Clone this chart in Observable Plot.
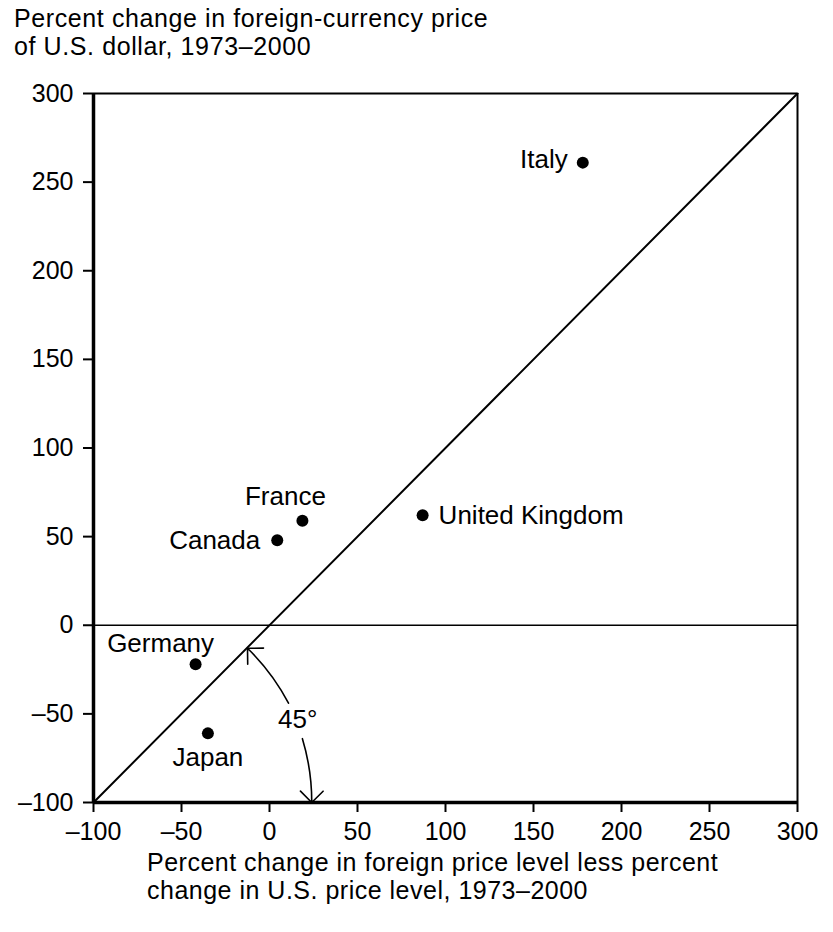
<!DOCTYPE html>
<html><head><meta charset="utf-8">
<script src="https://cdn.jsdelivr.net/npm/d3@7"></script>
<script src="https://cdn.jsdelivr.net/npm/@observablehq/plot@0.6"></script>
<style>
body{margin:0;background:#fff;font-family:"Liberation Sans",Arial,sans-serif;color:#000}
#wrap{width:833px;height:932px;position:relative;overflow:hidden}
#title{position:absolute;left:14px;top:4px;font-size:25px;letter-spacing:0.6px;line-height:28px;white-space:nowrap}
#chart{position:absolute;left:0;top:75px}
#caption{position:absolute;left:147px;top:848px;font-size:25px;letter-spacing:0.5px;line-height:28px;white-space:nowrap}
#chart g[aria-label="x-axis tick"] path, #chart g[aria-label="y-axis tick"] path{stroke-width:2}
</style></head><body>
<div id="wrap">
<div id="title">Percent change in foreign-currency price<br>of U.S. dollar, 1973–2000</div>
<div id="chart"></div>
<div id="caption">Percent change in foreign price level less percent<br>change in U.S. price level, 1973–2000</div>
</div>
<script>
// Data
const countries = ["Italy", "United Kingdom", "France", "Canada", "Germany", "Japan"];
const priceLevelDiff = [178, 87, 18.7, 4.4, -42, -35];      // x: % change foreign price level less US
const dollarPriceChange = [261, 62, 59, 48, -22, -61];      // y: % change foreign-currency price of US$
const xTicks = [-100, -50, 0, 50, 100, 150, 200, 250, 300];
const yTicks = [-100, -50, 0, 50, 100, 150, 200, 250, 300];
const equalityLine = [-100, 300];                           // 45-degree line endpoints (x = y)
// 45° annotation arc pieces (data coordinates) and its label
const arcUpper = [{x1: 10.8, y1: -44, x2: -12.5, y2: -13}];
const arcLower = [{x1: 18.7, y1: -64, x2: 24, y2: -100}];
const angleLabel = [{x: 16, y: -53, text: "45°"}];

// Label placement (layout only)
const placement = {
  "Italy":          {dx: -15, dy: -3,  anchor: "end"},
  "United Kingdom": {dx: 16,  dy: 0,   anchor: "start"},
  "France":         {dx: -17, dy: -24, anchor: "middle"},
  "Canada":         {dx: -17, dy: 1,   anchor: "end"},
  "Germany":        {dx: -35, dy: -21, anchor: "middle"},
  "Japan":          {dx: 0,   dy: 24,  anchor: "middle"}
};

const rows = countries.map((c, i) => ({country: c, x: priceLevelDiff[i], y: dollarPriceChange[i]}));
const FONT = "'Liberation Sans', Arial, sans-serif";

const labelMarks = rows.map(r => Plot.text([r], {
  x: "x", y: "y", text: "country",
  dx: placement[r.country].dx, dy: placement[r.country].dy,
  textAnchor: placement[r.country].anchor,
  fontSize: 26, fill: "#000"
}));

const chart = Plot.plot({
  width: 833,
  height: 771,
  marginTop: 18,
  marginBottom: 44,
  marginLeft: 93,
  marginRight: 36,
  style: {fontSize: "25px", fontFamily: FONT, color: "#000", background: "#fff", overflow: "visible"},
  x: {domain: [-100, 300], ticks: xTicks, tickSize: 10, tickPadding: 10, label: null, tickFormat: d => String(d).replace("-", "–")},
  y: {domain: [-100, 300], ticks: yTicks, tickSize: 10, tickPadding: 10, label: null, tickFormat: d => String(d).replace("-", "–")},
  marks: [
    Plot.ruleY([0], {stroke: "#000", strokeWidth: 1.6}),
    Plot.line(equalityLine, {x: d => d, y: d => d, stroke: "#000", strokeWidth: 2}),
    Plot.ruleX([300], {stroke: "#000", strokeWidth: 2}),
    Plot.ruleY([300], {stroke: "#000", strokeWidth: 2}),
    Plot.ruleX([-100], {stroke: "#000", strokeWidth: 3.5}),
    Plot.ruleY([-100], {stroke: "#000", strokeWidth: 3.5}),
    Plot.arrow(arcUpper, {x1: "x1", y1: "y1", x2: "x2", y2: "y2", bend: -9, headAngle: 90, headLength: 15, stroke: "#000", strokeWidth: 1.6}),
    Plot.arrow(arcLower, {x1: "x1", y1: "y1", x2: "x2", y2: "y2", bend: 8.5, headAngle: 90, headLength: 15, stroke: "#000", strokeWidth: 1.6}),
    Plot.text(angleLabel, {x: "x", y: "y", text: "text", fontSize: 26, fill: "#000"}),
    Plot.dot(rows, {x: "x", y: "y", r: 6, fill: "#000", stroke: "none"}),
    ...labelMarks
  ]
});
document.getElementById("chart").appendChild(chart);
</script>
</body></html>
